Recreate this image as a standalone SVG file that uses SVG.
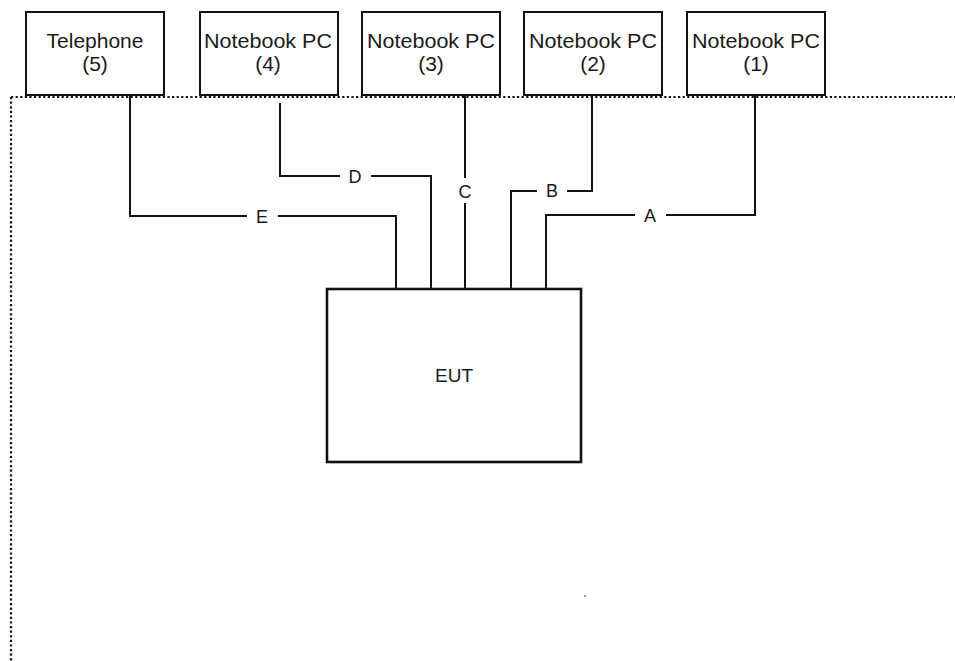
<svg xmlns="http://www.w3.org/2000/svg" width="955" height="661" viewBox="0 0 955 661">
<style>
.box{fill:#fff;stroke:#111;stroke-width:2}
.eut{fill:#fff;stroke:#111;stroke-width:2.6}
.t{font-family:"Liberation Sans",Arial,sans-serif;font-size:21px;fill:#1a1a1a;text-anchor:middle}
.lbl{font-family:"Liberation Sans",Arial,sans-serif;font-size:18px;fill:#1a1a1a;text-anchor:middle}
.w{fill:none;stroke:#111;stroke-width:2}
.dot{fill:none;stroke:#111;stroke-width:2.2;stroke-dasharray:2.2 2.4}
</style>
<rect width="955" height="661" fill="#fff"/>
<g id="boundary">
<line class="dot" x1="11" y1="97" x2="955" y2="97"/>
<line class="dot" x1="11" y1="97" x2="11" y2="661"/>
</g>
<g id="connectors">
<polyline class="w" points="130,95 130,216 247,216"/>
<polyline class="w" points="278,216 396,216 396,289"/>
<text class="lbl" x="262" y="223">E</text>
<polyline class="w" points="280,103 280,176 340,176"/>
<polyline class="w" points="371,176 431,176 431,289"/>
<text class="lbl" x="355" y="183">D</text>
<line class="w" x1="465" y1="95" x2="465" y2="178"/>
<line class="w" x1="465" y1="203" x2="465" y2="289"/>
<text class="lbl" x="465" y="198">C</text>
<polyline class="w" points="592,95 592,191 567,191"/>
<polyline class="w" points="537,191 511,191 511,289"/>
<text class="lbl" x="552" y="197">B</text>
<polyline class="w" points="755,95 755,215 666,215"/>
<polyline class="w" points="635,215 546,215 546,289"/>
<text class="lbl" x="650" y="222">A</text>
</g>
<g id="telephone5">
<rect class="box" x="26" y="12" width="138" height="83"/>
<text class="t" x="95" y="48">Telephone</text>
<text class="t" x="95" y="71">(5)</text>
</g>
<g id="notebook4">
<rect class="box" x="200" y="12" width="138" height="83"/>
<text class="t" x="268" y="48" textLength="128" lengthAdjust="spacingAndGlyphs">Notebook PC</text>
<text class="t" x="268" y="71">(4)</text>
</g>
<g id="notebook3">
<rect class="box" x="362" y="12" width="138" height="83"/>
<text class="t" x="431" y="48" textLength="128" lengthAdjust="spacingAndGlyphs">Notebook PC</text>
<text class="t" x="431" y="71">(3)</text>
</g>
<g id="notebook2">
<rect class="box" x="524" y="12" width="138" height="83"/>
<text class="t" x="593" y="48" textLength="128" lengthAdjust="spacingAndGlyphs">Notebook PC</text>
<text class="t" x="593" y="71">(2)</text>
</g>
<g id="notebook1">
<rect class="box" x="687" y="12" width="138" height="83"/>
<text class="t" x="756" y="48" textLength="128" lengthAdjust="spacingAndGlyphs">Notebook PC</text>
<text class="t" x="756" y="71">(1)</text>
</g>
<g id="eut">
<rect class="eut" x="327" y="289" width="254" height="173"/>
<text class="t" x="454" y="382" style="font-size:19px">EUT</text>
</g>
<circle cx="585" cy="596" r="1" fill="#777"/>
</svg>
